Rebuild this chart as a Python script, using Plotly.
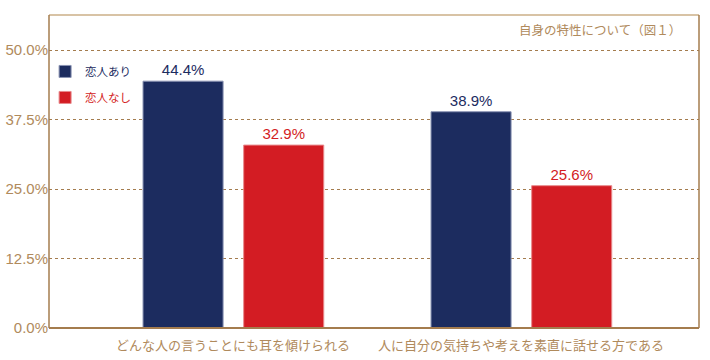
import plotly.graph_objects as go

categories = ["どんな人の言うことにも耳を傾けられる", "人に自分の気持ちや考えを素直に話せる方である"]
series_names = ["恋人あり", "恋人なし"]
with_partner = [44.4, 38.9]
without_partner = [32.9, 25.6]
y_ticks = [0, 12.5, 25, 37.5, 50]
y_tick_labels = ["0.0%", "12.5%", "25.0%", "37.5%", "50.0%"]

NAVY = "#1c2c5f"
RED = "#d31c23"
TAN = "#b08a5c"
BROWN = "#a47c4e"
FONT = "Arial, Liberation Sans, Noto Sans CJK JP, sans-serif"

fig = go.Figure()
for i, (name, vals, col, lcol, off) in enumerate([
        (series_names[0], with_partner, NAVY, "#8a93b3", -0.3125),
        (series_names[1], without_partner, RED, "#e88a8d", 0.037)]):
    fig.add_trace(go.Bar(
        x=categories, y=vals, name=f"<span style='color:{col}'>{name}</span>",
        legendgroup=f"g{i}",
        width=0.278, offset=off,
        marker=dict(color=col, line=dict(color=lcol, width=1)),
        text=[f"{v:.1f}%" for v in vals], textposition="outside",
        textfont=dict(color=col, size=15, family=FONT),
        cliponaxis=False,
    ))

fig.update_layout(
    width=710, height=360,
    margin=dict(l=49, r=11, t=15, b=32),
    plot_bgcolor="white", paper_bgcolor="white",
    barmode="overlay",
    font=dict(family=FONT, color=TAN),
    showlegend=True,
    legend=dict(x=-0.006, y=0.866, xanchor="left", yanchor="top",
                font=dict(size=11.5, family=FONT), bgcolor="rgba(0,0,0,0)",
                tracegroupgap=7, itemwidth=30),
    xaxis=dict(type="category", range=[-0.639, 1.618], showgrid=False, automargin=False,
               tickfont=dict(size=13, color=TAN), ticks="", showline=False,
               ticklabelstandoff=8),
    yaxis=dict(range=[0, 56.3], tickvals=y_ticks, ticktext=y_tick_labels, automargin=False,
               showgrid=True, gridcolor=BROWN, griddash="dot", gridwidth=1,
               zeroline=False, tickfont=dict(size=15, color=TAN), ticks="",
               showline=False),
    annotations=[dict(text="自身の特性について（図１）", xref="paper", yref="paper",
                      x=0.975, y=0.949, xanchor="right", yanchor="middle",
                      showarrow=False, font=dict(size=12.5, color=TAN, family=FONT))],
    shapes=[
        dict(type="line", xref="paper", yref="paper", x0=0, x1=1, y0=1, y1=1,
             line=dict(color="#d8c3a5", width=2)),
        dict(type="line", xref="paper", yref="paper", x0=0, x1=0, y0=0, y1=1,
             line=dict(color=BROWN, width=1.5)),
        dict(type="line", xref="paper", yref="paper", x0=1, x1=1, y0=0, y1=1,
             line=dict(color=BROWN, width=1.5)),
        dict(type="line", xref="paper", yref="paper", x0=0, x1=1, y0=0, y1=0,
             line=dict(color=BROWN, width=2)),
    ],
)
fig.write_html("out.html", config={"displayModeBar": False},
               post_script="document.body.style.margin='0';document.body.style.overflow='hidden';")
